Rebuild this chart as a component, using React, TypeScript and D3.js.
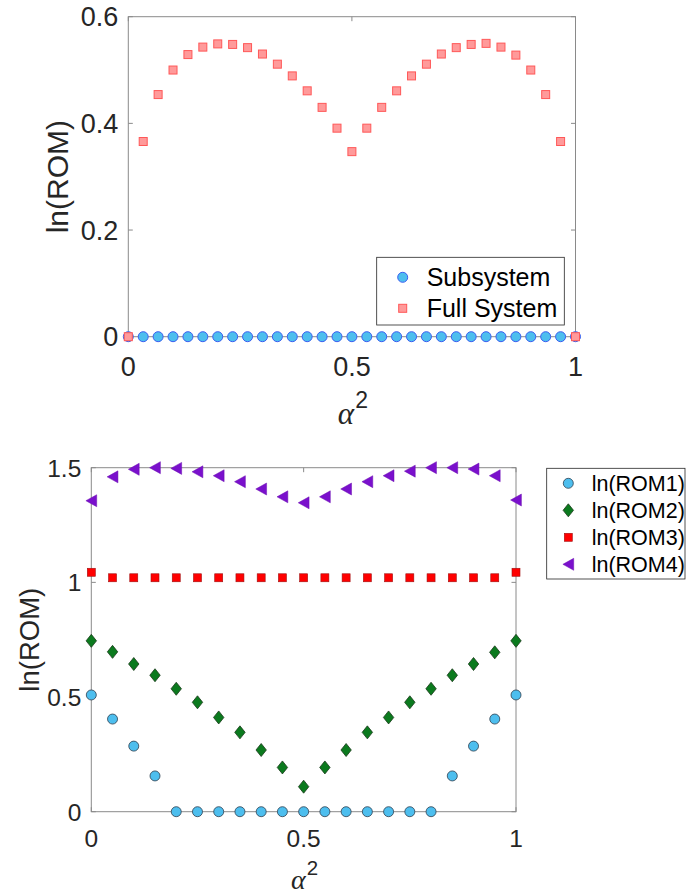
import React from "react";
import * as d3 from "d3";

// ---------- data ----------
const topAlpha = d3.range(31).map((i) => i / 30);
const subsystem = [0, 0, 0, 0, 0, 0, 0, 0, 0, 0, 0, 0, 0, 0, 0, 0, 0, 0, 0, 0, 0, 0, 0, 0, 0, 0, 0, 0, 0, 0, 0];
const fullSystem = [
  0, 0.366, 0.454, 0.5, 0.529, 0.543, 0.549, 0.548, 0.542, 0.53, 0.511, 0.489, 0.461, 0.43, 0.391, 0.347,
  0.391, 0.43, 0.461, 0.489, 0.511, 0.53, 0.542, 0.548, 0.55, 0.543, 0.528, 0.5, 0.454, 0.366, 0,
];
const topYTicks = [0, 0.2, 0.4, 0.6];
const topYTickLabels = ["0", "0.2", "0.4", "0.6"];
const xTicks = [0, 0.5, 1];
const xTickLabels = ["0", "0.5", "1"];
const topLegend = ["Subsystem", "Full System"];

const botAlpha = d3.range(21).map((i) => i * 0.05);
const rom1 = [0.509, 0.404, 0.286, 0.156, 0, 0, 0, 0, 0, 0, 0, 0, 0, 0, 0, 0, 0, 0.156, 0.286, 0.404, 0.509];
const rom2 = [
  0.745, 0.697, 0.644, 0.595, 0.536, 0.477, 0.411, 0.346, 0.269, 0.193, 0.109, 0.193, 0.269, 0.346, 0.411,
  0.477, 0.536, 0.595, 0.644, 0.695, 0.745,
];
const rom3 = [
  1.044, 1.02, 1.02, 1.02, 1.02, 1.02, 1.02, 1.02, 1.02, 1.02, 1.02, 1.02, 1.02, 1.02, 1.02, 1.02, 1.02, 1.02,
  1.02, 1.02, 1.044,
];
const rom4 = [
  1.356, 1.46, 1.493, 1.5, 1.497, 1.482, 1.465, 1.439, 1.407, 1.373, 1.347, 1.373, 1.407, 1.439, 1.465, 1.485,
  1.5, 1.5, 1.494, 1.465, 1.359,
];
const botYTicks = [0, 0.5, 1, 1.5];
const botYTickLabels = ["0", "0.5", "1", "1.5"];
const botLegend = ["ln(ROM1)", "ln(ROM2)", "ln(ROM3)", "ln(ROM4)"];

// ---------- styles ----------
const SANS = "'Liberation Sans', Arial, sans-serif";
const SERIF = "'Liberation Serif', 'DejaVu Serif', serif";
const AXIS = "#8a8a8a";
const TEXT = "#262626";

const Circle = ({ x, y, r, fill, stroke, sw }: any) => (
  <circle cx={x} cy={y} r={r} fill={fill} stroke={stroke} strokeWidth={sw} />
);
const Square = ({ x, y, s, fill, stroke, sw }: any) => (
  <rect x={x - s / 2} y={y - s / 2} width={s} height={s} fill={fill} stroke={stroke} strokeWidth={sw} />
);
const Diamond = ({ x, y }: any) => (
  <path
    d={`M${x},${y - 6.5}L${x + 5.2},${y}L${x},${y + 6.5}L${x - 5.2},${y}Z`}
    fill="#0b7a1e"
    stroke="#1c3a1c"
    strokeWidth={0.8}
  />
);
const TriLeft = ({ x, y }: any) => (
  <path
    d={`M${x - 5.4},${y}L${x + 5.4},${y - 6}L${x + 5.4},${y + 6}Z`}
    fill="#7a10cc"
    stroke="#6a0cb0"
    strokeWidth={0.5}
  />
);

export default function App() {
  // top panel geometry
  const tL = 128.3, tR = 575.5, tT = 16.7, tB = 336.7;
  const xT = d3.scaleLinear().domain([0, 1]).range([tL, tR]);
  const yT = d3.scaleLinear().domain([0, 0.6]).range([tB, tT]);

  // bottom panel geometry
  const bL = 91.3, bR = 516, bT = 467.7, bB = 811.7;
  const xB = d3.scaleLinear().domain([0, 1]).range([bL, bR]);
  const yB = d3.scaleLinear().domain([0, 1.5]).range([bB, bT]);

  const tk = 4.5;

  return (
    <svg
      width={699}
      height={892}
      style={{ position: "absolute", left: 0, top: 0, background: "#fff" }}
      fontFamily={SANS}
    >
      <rect x={0} y={0} width={699} height={892} fill="#fff" />

      {/* ================= TOP PANEL ================= */}
      <rect x={tL} y={tT} width={tR - tL} height={tB - tT} fill="none" stroke={AXIS} strokeWidth={1} />
      {topYTicks.map((v, i) => (
        <g key={"tyt" + i}>
          <line x1={tL} x2={tL + tk} y1={yT(v)} y2={yT(v)} stroke={AXIS} />
          <line x1={tR} x2={tR - tk} y1={yT(v)} y2={yT(v)} stroke={AXIS} />
          <text x={tL - 10} y={yT(v)} dy="0.36em" textAnchor="end" fontSize={27} fill={TEXT}>
            {topYTickLabels[i]}
          </text>
        </g>
      ))}
      {xTicks.map((v, i) => (
        <g key={"txt" + i}>
          <line x1={xT(v)} x2={xT(v)} y1={tB} y2={tB - tk} stroke={AXIS} />
          <line x1={xT(v)} x2={xT(v)} y1={tT} y2={tT + tk} stroke={AXIS} />
          <text x={xT(v)} y={375.5} textAnchor="middle" fontSize={27} fill={TEXT}>
            {xTickLabels[i]}
          </text>
        </g>
      ))}
      <text
        transform={`translate(68,${(tT + tB) / 2}) rotate(-90)`}
        textAnchor="middle"
        fontSize={30}
        fill={TEXT}
      >
        ln(ROM)
      </text>
      <text x={(tL + tR) / 2 + 1} y={424} textAnchor="middle" fill={TEXT}>
        <tspan fontFamily={SERIF} fontStyle="italic" fontSize={31}>
          α
        </tspan>
        <tspan fontSize={23} dy={-16} dx={1}>
          2
        </tspan>
      </text>

      {subsystem.map((v, i) => (
        <Circle key={"ss" + i} x={xT(topAlpha[i])} y={yT(v)} r={5} fill="#4dbeee" stroke="#3a5ef0" sw={1} />
      ))}
      {fullSystem.map((v, i) => (
        <Square key={"fs" + i} x={xT(topAlpha[i])} y={yT(v)} s={8} fill="#ff9a9a" stroke="#ff5858" sw={1} />
      ))}

      {/* top legend */}
      <rect x={376.7} y={257.3} width={187.6} height={67.7} fill="#fff" stroke={TEXT} strokeWidth={0.8} />
      <Circle x={402.7} y={277.3} r={5} fill="#4dbeee" stroke="#3a5ef0" sw={1} />
      <Square x={402.7} y={308.3} s={8} fill="#ff9a9a" stroke="#ff5858" sw={1} />
      {topLegend.map((t, i) => (
        <text key={"tl" + i} x={426.7} y={277.3 + i * 31} dy="0.36em" fontSize={25} fill="#000">
          {t}
        </text>
      ))}

      {/* ================= BOTTOM PANEL ================= */}
      <rect x={bL} y={bT} width={bR - bL} height={bB - bT} fill="none" stroke={AXIS} strokeWidth={1} />
      {botYTicks.map((v, i) => (
        <g key={"byt" + i}>
          <line x1={bL} x2={bL + tk} y1={yB(v)} y2={yB(v)} stroke={AXIS} />
          <line x1={bR} x2={bR - tk} y1={yB(v)} y2={yB(v)} stroke={AXIS} />
          <text x={bL - 10} y={yB(v)} dy="0.36em" textAnchor="end" fontSize={24.5} fill={TEXT}>
            {botYTickLabels[i]}
          </text>
        </g>
      ))}
      {xTicks.map((v, i) => (
        <g key={"bxt" + i}>
          <line x1={xB(v)} x2={xB(v)} y1={bB} y2={bB - tk} stroke={AXIS} />
          <line x1={xB(v)} x2={xB(v)} y1={bT} y2={bT + tk} stroke={AXIS} />
          <text x={xB(v)} y={847} textAnchor="middle" fontSize={24.5} fill={TEXT}>
            {xTickLabels[i]}
          </text>
        </g>
      ))}
      <text
        transform={`translate(38.5,${(bT + bB) / 2}) rotate(-90)`}
        textAnchor="middle"
        fontSize={27.5}
        fill={TEXT}
      >
        ln(ROM)
      </text>
      <text x={(bL + bR) / 2 + 1} y={889} textAnchor="middle" fill={TEXT}>
        <tspan fontFamily={SERIF} fontStyle="italic" fontSize={28}>
          α
        </tspan>
        <tspan fontSize={20.5} dy={-14.5} dx={1}>
          2
        </tspan>
      </text>

      {rom1.map((v, i) => (
        <Circle key={"r1" + i} x={xB(botAlpha[i])} y={yB(v)} r={5} fill="#4dbeee" stroke="#2f3f4f" sw={0.8} />
      ))}
      {rom2.map((v, i) => (
        <Diamond key={"r2" + i} x={xB(botAlpha[i])} y={yB(v)} />
      ))}
      {rom3.map((v, i) => (
        <Square key={"r3" + i} x={xB(botAlpha[i])} y={yB(v)} s={8} fill="#ff0000" stroke="#a01010" sw={0.6} />
      ))}
      {rom4.map((v, i) => (
        <TriLeft key={"r4" + i} x={xB(botAlpha[i])} y={yB(v)} />
      ))}

      {/* bottom legend */}
      <rect x={546.7} y={468.3} width={138.3} height={110.7} fill="#fff" stroke={TEXT} strokeWidth={0.8} />
      <Circle x={568.3} y={483.3} r={5} fill="#4dbeee" stroke="#2f3f4f" sw={0.8} />
      <Diamond x={568.3} y={510.3} />
      <Square x={568.3} y={537.3} s={8} fill="#ff0000" stroke="#a01010" sw={0.6} />
      <TriLeft x={568.3} y={564.3} />
      {botLegend.map((t, i) => (
        <text key={"bl" + i} x={591.7} y={483.3 + i * 27} dy="0.36em" fontSize={21.5} fill="#000">
          {t}
        </text>
      ))}
    </svg>
  );
}
